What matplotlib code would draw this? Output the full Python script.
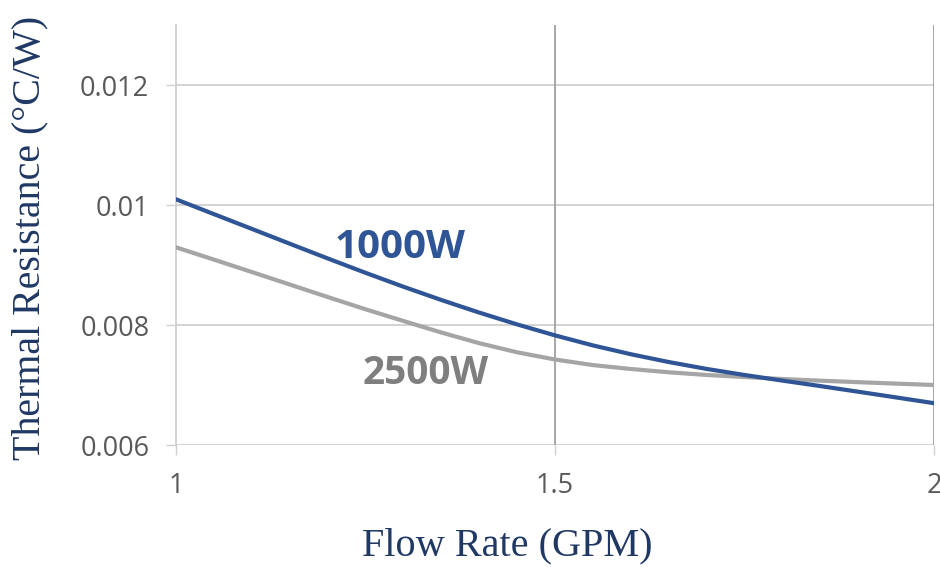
import matplotlib
matplotlib.use("Agg")
import matplotlib.pyplot as plt

flow = [1.00, 1.05, 1.10, 1.15, 1.20, 1.25, 1.30, 1.35, 1.40, 1.45, 1.50,
        1.55, 1.60, 1.65, 1.70, 1.75, 1.80, 1.85, 1.90, 1.95, 2.00]
r_1000w = [0.010095, 0.009848, 0.009602, 0.009355, 0.009110, 0.008870, 0.008638,
           0.008417, 0.008207, 0.008010, 0.007827, 0.007660, 0.007513, 0.007383,
           0.007268, 0.007167, 0.007073, 0.006982, 0.006888, 0.006793, 0.006697]
r_2500w = [0.009295, 0.009090, 0.008883, 0.008675, 0.008467, 0.008262, 0.008067,
           0.007875, 0.007697, 0.007545, 0.007425, 0.007332, 0.007267, 0.007212,
           0.007167, 0.007133, 0.007100, 0.007072, 0.007047, 0.007023, 0.007000]
x_ticks = [1, 1.5, 2]
x_tick_labels = ["1", "1.5", "2"]
y_ticks = [0.006, 0.008, 0.010, 0.012]
y_tick_labels = ["0.006", "0.008", "0.01", "0.012"]

fig = plt.figure(figsize=(9.4, 5.67), dpi=100)
ax = fig.add_axes([176/940, 1-445/567, (934-176)/940, (445-25)/567])

ax.set_xlim(1, 2)
ax.set_ylim(0.006, 0.013)

# grid
for y in y_ticks:
    ax.axhline(y, color="#D0D0D0", lw=1.3, zorder=1)
for x in x_ticks[1:]:
    ax.axvline(x, color="#A0A0A0", lw=1.3, zorder=1)

ax.plot(flow, r_2500w, color="#A5A5A5", lw=3, zorder=3)
ax.plot(flow, r_1000w, color="#2F5597", lw=3, zorder=4)

for s in ["top", "bottom", "right"]:
    ax.spines[s].set_visible(False)
ax.spines["left"].set_color("#D0D0D0")
ax.spines["left"].set_linewidth(1.3)

ax.set_xticks(x_ticks)
ax.set_xticklabels(x_tick_labels)
ax.set_yticks(y_ticks)
ax.set_yticklabels(y_tick_labels)
ax.tick_params(axis="both", direction="out", length=7.2, width=1.0, color="#D0D0D0",
               labelcolor="#595959", labelsize=19.5)
ax.tick_params(axis="y", pad=12)
ax.tick_params(axis="x", pad=12)
for lab in ax.get_xticklabels() + ax.get_yticklabels():
    lab.set_family("Open Sans")

ax.text(1.2098, 0.00930, "1000W", color="#2F5597", fontsize=29, fontweight="bold",
        family="Open Sans", ha="left", va="center")
ax.text(1.2467, 0.00720, "2500W", color="#7F7F7F", fontsize=28, fontweight="bold",
        family="Open Sans", ha="left", va="center")

fig.text(507/940, 1-546/567, "Flow Rate (GPM)", color="#1F3864", fontsize=29,
         family="Liberation Serif", ha="center", va="center")
fig.text(30/940, 1-238/567, "Thermal Resistance (°C/W)", color="#1F3864", fontsize=28.8,
         family="Liberation Serif", ha="center", va="center", rotation=90)

fig.savefig("out.png", dpi=100)
